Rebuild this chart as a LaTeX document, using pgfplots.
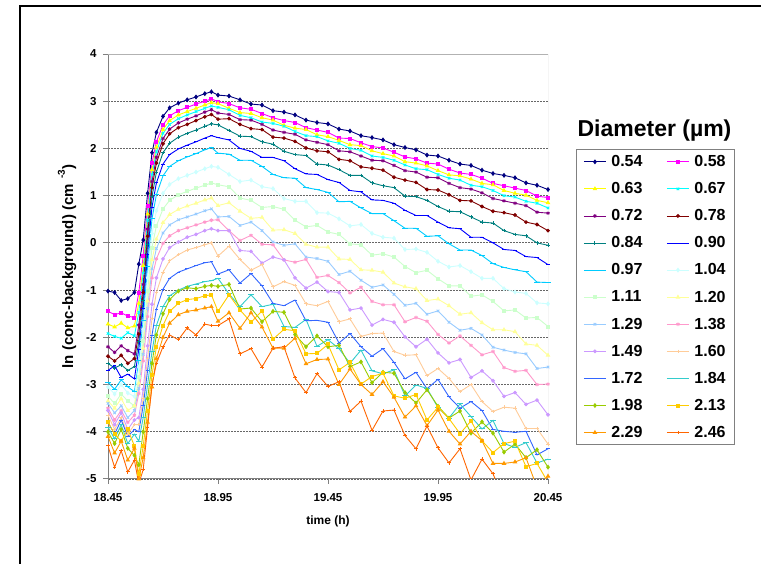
\documentclass[border=0pt]{standalone}
\usepackage{pgfplots}
\usepackage{pgfplotstable}
\pgfplotsset{compat=1.18}
\usepackage{fontspec}
\setmainfont{Liberation Sans}

\definecolor{c1}{HTML}{000080}
\definecolor{c2}{HTML}{FF00FF}
\definecolor{c3}{HTML}{FFFF00}
\definecolor{c4}{HTML}{00FFFF}
\definecolor{c5}{HTML}{800080}
\definecolor{c6}{HTML}{800000}
\definecolor{c7}{HTML}{008080}
\definecolor{c8}{HTML}{0000FF}
\definecolor{c9}{HTML}{00CCFF}
\definecolor{c10}{HTML}{CCFFFF}
\definecolor{c11}{HTML}{CCFFCC}
\definecolor{c12}{HTML}{FFFF99}
\definecolor{c13}{HTML}{99CCFF}
\definecolor{c14}{HTML}{FF99CC}
\definecolor{c15}{HTML}{CC99FF}
\definecolor{c16}{HTML}{FFCC99}
\definecolor{c17}{HTML}{3366FF}
\definecolor{c18}{HTML}{33CCCC}
\definecolor{c19}{HTML}{99CC00}
\definecolor{c20}{HTML}{FFCC00}
\definecolor{c21}{HTML}{FF9900}
\definecolor{c22}{HTML}{FF6600}

% one row per series (transposed below)
\pgfplotstableread[header=false]{
x 18.45 18.48 18.51 18.54 18.57 18.59 18.61 18.63 18.65 18.67 18.70 18.73 18.77 18.81 18.85 18.89 18.92 18.95 19.00 19.05 19.10 19.15 19.20 19.25 19.30 19.35 19.40 19.45 19.50 19.55 19.60 19.65 19.70 19.75 19.80 19.85 19.90 19.95 20.00 20.05 20.10 20.15 20.20 20.25 20.30 20.35 20.40 20.45
s1 -1.02 -1.05 -1.22 -1.18 -1.05 -0.45 0.06 1.05 1.91 2.34 2.68 2.86 2.96 3.03 3.09 3.16 3.20 3.13 3.11 3.03 2.94 2.92 2.80 2.77 2.71 2.60 2.55 2.52 2.41 2.37 2.27 2.23 2.18 2.08 2.02 1.97 1.86 1.84 1.75 1.67 1.64 1.54 1.47 1.43 1.38 1.27 1.22 1.13
s2 -1.45 -1.52 -1.48 -1.55 -1.58 -1.05 -0.27 0.78 1.69 2.14 2.50 2.69 2.80 2.87 2.94 3.00 3.05 2.99 2.95 2.86 2.83 2.74 2.65 2.59 2.55 2.44 2.39 2.34 2.22 2.21 2.12 2.04 2.01 1.92 1.82 1.78 1.69 1.67 1.56 1.48 1.45 1.37 1.26 1.21 1.16 1.11 0.99 0.96
s3 -1.72 -1.78 -1.70 -1.80 -1.76 -1.28 -0.48 0.61 1.55 2.03 2.40 2.59 2.71 2.78 2.85 2.92 2.97 2.95 2.85 2.76 2.74 2.65 2.60 2.49 2.43 2.40 2.29 2.25 2.17 2.08 2.06 1.95 1.89 1.84 1.72 1.69 1.63 1.53 1.44 1.42 1.35 1.26 1.23 1.11 1.05 1.01 0.90 0.85
s4 -1.92 -1.98 -2.02 -1.90 -1.97 -1.47 -0.64 0.48 1.45 1.93 2.32 2.51 2.63 2.71 2.78 2.85 2.90 2.87 2.82 2.70 2.65 2.56 2.53 2.47 2.36 2.27 2.25 2.16 2.11 2.00 1.96 1.84 1.81 1.75 1.65 1.57 1.55 1.45 1.37 1.33 1.22 1.19 1.11 1.00 0.97 0.88 0.84 0.74
s5 -2.20 -2.32 -2.18 -2.28 -2.35 -1.74 -0.88 0.29 1.30 1.81 2.21 2.41 2.54 2.62 2.69 2.77 2.82 2.75 2.72 2.61 2.60 2.51 2.39 2.34 2.30 2.18 2.13 2.08 1.95 1.93 1.84 1.75 1.74 1.64 1.53 1.50 1.39 1.38 1.26 1.17 1.14 1.06 0.94 0.89 0.84 0.79 0.65 0.63
s6 -2.40 -2.50 -2.38 -2.55 -2.45 -1.93 -1.05 0.14 1.17 1.69 2.10 2.31 2.44 2.51 2.59 2.67 2.72 2.62 2.63 2.51 2.42 2.40 2.24 2.22 2.15 2.01 1.95 1.93 1.77 1.74 1.61 1.58 1.54 1.39 1.33 1.28 1.13 1.12 1.02 0.90 0.89 0.77 0.67 0.64 0.59 0.44 0.39 0.26
s7 -2.55 -2.65 -2.58 -2.70 -2.62 -2.09 -1.22 -0.04 0.98 1.50 1.91 2.11 2.24 2.32 2.39 2.47 2.52 2.50 2.38 2.26 2.25 2.14 2.09 1.94 1.87 1.85 1.67 1.65 1.55 1.43 1.43 1.27 1.21 1.17 0.99 0.98 0.90 0.77 0.67 0.66 0.55 0.44 0.42 0.26 0.18 0.15 0.00 -0.05
s8 -2.70 -2.60 -2.85 -2.78 -2.88 -2.25 -1.39 -0.24 0.76 1.27 1.67 1.87 1.99 2.07 2.14 2.22 2.27 2.23 2.18 2.00 1.94 1.81 1.81 1.74 1.57 1.46 1.45 1.34 1.28 1.11 1.08 0.91 0.90 0.84 0.69 0.58 0.58 0.44 0.32 0.30 0.12 0.12 0.00 -0.14 -0.16 -0.29 -0.31 -0.46
s9 -2.95 -3.10 -2.90 -3.05 -3.15 -2.50 -1.64 -0.49 0.51 1.02 1.42 1.62 1.74 1.82 1.89 1.97 2.02 1.90 1.88 1.75 1.75 1.62 1.45 1.38 1.37 1.17 1.13 1.07 0.87 0.88 0.74 0.62 0.62 0.47 0.31 0.31 0.14 0.15 -0.02 -0.15 -0.15 -0.27 -0.44 -0.52 -0.57 -0.61 -0.83 -0.84
s10 -3.05 -3.20 -3.00 -3.18 -3.25 -2.63 -1.83 -0.74 0.20 0.68 1.05 1.24 1.36 1.43 1.50 1.57 1.62 1.60 1.45 1.30 1.33 1.19 1.15 0.94 0.88 0.88 0.64 0.63 0.51 0.36 0.39 0.20 0.12 0.10 -0.14 -0.13 -0.20 -0.39 -0.51 -0.48 -0.61 -0.75 -0.75 -0.97 -1.04 -1.07 -1.27 -1.29
s11 -3.25 -3.40 -3.20 -3.35 -3.45 -2.84 -2.07 -1.02 -0.10 0.36 0.72 0.90 1.02 1.09 1.16 1.22 1.27 1.23 1.19 0.95 0.90 0.75 0.77 0.71 0.48 0.34 0.37 0.23 0.18 -0.02 -0.04 -0.26 -0.23 -0.30 -0.50 -0.63 -0.58 -0.76 -0.91 -0.91 -1.13 -1.10 -1.24 -1.44 -1.42 -1.59 -1.58 -1.77
s12 -3.35 -3.50 -3.30 -3.55 -3.45 -2.97 -2.23 -1.23 -0.36 0.08 0.43 0.60 0.71 0.78 0.84 0.91 0.95 0.79 0.85 0.67 0.52 0.54 0.27 0.28 0.20 -0.03 -0.09 -0.09 -0.34 -0.35 -0.57 -0.58 -0.62 -0.85 -0.93 -0.97 -1.22 -1.19 -1.33 -1.51 -1.48 -1.69 -1.84 -1.84 -1.88 -2.14 -2.17 -2.38
s13 -3.40 -3.60 -3.45 -3.70 -3.55 -3.08 -2.36 -1.39 -0.55 -0.12 0.21 0.38 0.49 0.55 0.61 0.68 0.72 0.55 0.56 0.37 0.44 0.26 0.02 -0.05 -0.02 -0.30 -0.33 -0.39 -0.67 -0.60 -0.79 -0.94 -0.89 -1.09 -1.32 -1.28 -1.51 -1.44 -1.68 -1.85 -1.81 -1.95 -2.21 -2.27 -2.32 -2.35 -2.66 -2.63
s14 -3.50 -3.75 -3.55 -3.80 -3.65 -3.19 -2.50 -1.56 -0.74 -0.34 -0.01 0.15 0.26 0.32 0.38 0.44 0.48 0.49 0.26 0.05 0.16 -0.03 -0.04 -0.36 -0.41 -0.35 -0.73 -0.69 -0.84 -1.06 -0.94 -1.24 -1.31 -1.31 -1.67 -1.58 -1.66 -1.94 -2.12 -1.97 -2.17 -2.37 -2.30 -2.64 -2.72 -2.70 -3.00 -2.99
s15 -3.55 -3.85 -3.60 -3.95 -3.75 -3.70 -3.10 -2.18 -1.30 -0.74 -0.34 -0.10 0.02 0.12 0.18 0.26 0.30 0.26 0.26 -0.16 -0.18 -0.43 -0.30 -0.36 -0.74 -0.96 -0.83 -1.03 -1.05 -1.42 -1.38 -1.74 -1.62 -1.68 -1.99 -2.20 -2.04 -2.33 -2.54 -2.47 -2.85 -2.71 -2.92 -3.25 -3.17 -3.42 -3.33 -3.64
s16 -3.65 -3.95 -3.70 -4.05 -3.85 -3.85 -3.30 -2.45 -1.60 -1.05 -0.62 -0.38 -0.25 -0.15 -0.10 -0.04 0.00 -0.28 -0.07 -0.35 -0.58 -0.46 -0.93 -0.82 -0.90 -1.29 -1.33 -1.24 -1.67 -1.61 -1.98 -1.92 -1.91 -2.30 -2.38 -2.37 -2.81 -2.66 -2.87 -3.15 -3.00 -3.36 -3.57 -3.48 -3.50 -3.93 -3.93 -4.26
s17 -3.80 -4.05 -3.75 -4.10 -3.95 -4.00 -3.45 -2.70 -1.95 -1.40 -0.98 -0.75 -0.62 -0.55 -0.48 -0.42 -0.40 -0.66 -0.57 -0.85 -0.65 -0.91 -1.28 -1.33 -1.21 -1.65 -1.64 -1.68 -2.12 -1.92 -2.20 -2.40 -2.24 -2.53 -2.88 -2.74 -3.09 -2.89 -3.26 -3.50 -3.36 -3.55 -3.95 -3.99 -4.01 -3.99 -4.49 -4.36
s18 -3.90 -4.15 -3.85 -4.25 -4.05 -4.20 -3.70 -3.00 -2.30 -1.75 -1.35 -1.12 -1.00 -0.92 -0.87 -0.82 -0.80 -0.75 -1.08 -1.35 -1.10 -1.35 -1.30 -1.77 -1.79 -1.62 -2.19 -2.05 -2.24 -2.55 -2.27 -2.71 -2.77 -2.69 -3.24 -3.01 -3.08 -3.49 -3.71 -3.41 -3.68 -3.94 -3.76 -4.25 -4.33 -4.23 -4.66 -4.58
s19 -4.00 -4.25 -3.95 -4.35 -4.50 -4.70 -4.00 -3.30 -2.55 -1.95 -1.50 -1.20 -1.02 -0.95 -0.97 -0.92 -0.90 -0.92 -0.88 -1.40 -1.38 -1.67 -1.45 -1.47 -1.94 -2.20 -1.97 -2.20 -2.17 -2.62 -2.52 -2.96 -2.74 -2.76 -3.17 -3.39 -3.11 -3.46 -3.71 -3.56 -4.03 -3.79 -4.03 -4.43 -4.26 -4.55 -4.38 -4.75
s20 -3.80 -4.05 -4.20 -3.95 -4.30 -4.90 -4.30 -3.55 -2.80 -2.20 -1.75 -1.45 -1.28 -1.20 -1.18 -1.12 -1.10 -1.45 -1.10 -1.42 -1.68 -1.44 -2.04 -1.83 -1.86 -2.35 -2.34 -2.15 -2.69 -2.53 -2.99 -2.83 -2.76 -3.24 -3.29 -3.21 -3.75 -3.48 -3.72 -4.04 -3.77 -4.19 -4.44 -4.25 -4.20 -4.74 -4.67 -5.07
s21 -4.10 -4.45 -4.20 -4.60 -4.35 -5.00 -4.55 -3.80 -3.05 -2.45 -2.00 -1.70 -1.52 -1.45 -1.42 -1.38 -1.35 -1.66 -1.48 -1.81 -1.48 -1.78 -2.23 -2.23 -2.02 -2.56 -2.47 -2.46 -3.00 -2.67 -3.00 -3.21 -2.94 -3.27 -3.69 -3.45 -3.87 -3.54 -3.99 -4.26 -3.99 -4.19 -4.67 -4.67 -4.64 -4.55 -5.18 -4.94
s22 -4.30 -4.75 -4.40 -4.85 -4.60 -5.10 -4.80 -3.90 -3.00 -2.55 -2.20 -1.95 -2.05 -1.80 -1.95 -1.72 -1.75 -1.75 -1.61 -2.35 -2.24 -2.63 -2.23 -2.20 -2.86 -3.17 -2.77 -3.04 -2.94 -3.57 -3.35 -3.97 -3.56 -3.54 -4.08 -4.36 -3.88 -4.34 -4.66 -4.36 -5.02 -4.58 -4.89 -5.44 -5.11 -5.50 -5.17 -5.68
}\rawtable
\pgfplotstabletranspose[colnames from=0]\datatable\rawtable

\begin{document}
\begin{tikzpicture}
\useasboundingbox (0,0) rectangle (761pt,563pt);
\fill[white] (0,0) rectangle (761pt,563pt);
\draw[line width=2.6pt] (20pt,-3pt) -- (20pt,557pt) -- (766pt,557pt);
\begin{axis}[
  at={(108pt,84pt)}, anchor=south west,
  scale only axis, width=440pt, height=425pt,
  xmin=18.45, xmax=20.45, ymin=-5, ymax=4,
  xtick={18.45,18.95,19.45,19.95,20.45},
  xticklabels={18.45,18.95,19.45,19.95,20.45},
  ytick={-5,-4,-3,-2,-1,0,1,2,3,4},
  yticklabels={-5,-4,-3,-2,-1,0,1,2,3,4},
  axis x line*=bottom, axis y line*=left,
  axis line style={black!50, line width=1pt, -},
  tick align=outside, major tick length=5pt,
  tick style={black!50, line width=1pt},
  ymajorgrids,
  grid style={black!60, dash pattern=on 1.5pt off 1.5pt, line width=0.8pt},
  tick label style={font=\bfseries\fontsize{11.5}{13}\selectfont},
  xticklabel style={yshift=-6pt},
  yticklabel style={xshift=-3pt},
  xlabel={time (h)},
  xlabel style={font=\bfseries\fontsize{12}{14}\selectfont, at={(axis description cs:0.5,-0.099)}, anchor=center},
  ylabel={ln (conc-background) (cm\,\raisebox{0.55em}{\fontsize{10}{10}\selectfont\ -3})},
  ylabel style={font=\bfseries\fontsize{15}{17}\selectfont, at={(axis description cs:-0.093,0.5)}, anchor=center},
  legend columns=2,
  legend cell align=left,
  legend style={at={(1.0636,0.7765)}, anchor=north west, draw=black!50, line width=1pt,
    font=\bfseries\fontsize{16}{18}\selectfont, inner xsep=7pt, inner ysep=4pt, row sep=10.4pt,
    /tikz/every odd column/.append style={column sep=3pt},
    /tikz/every even column/.append style={column sep=22pt}},
  legend image code/.code={\draw[mark repeat=2,mark phase=2] plot coordinates {(0pt,0pt) (11pt,0pt) (22pt,0pt)};},
  every axis plot/.append style={line width=0.9pt, mark size=1.8pt, mark options={solid}},
]
\addplot[c1, mark=diamond*] table[x=x, y=s1] {\datatable};
\addplot[c2, mark=square*, mark size=1.5pt] table[x=x, y=s2] {\datatable};
\addplot[c3, mark=triangle*] table[x=x, y=s3] {\datatable};
\addplot[c4, mark=x] table[x=x, y=s4] {\datatable};
\addplot[c5, mark=asterisk] table[x=x, y=s5] {\datatable};
\addplot[c6, mark=*, mark size=1.4pt] table[x=x, y=s6] {\datatable};
\addplot[c7, mark=+] table[x=x, y=s7] {\datatable};
\addplot[c8, mark=-] table[x=x, y=s8] {\datatable};
\addplot[c9, mark=-, mark size=2.6pt] table[x=x, y=s9] {\datatable};
\addplot[c10, mark=diamond*] table[x=x, y=s10] {\datatable};
\addplot[c11, mark=square*, mark size=1.5pt] table[x=x, y=s11] {\datatable};
\addplot[c12, mark=triangle*] table[x=x, y=s12] {\datatable};
\addplot[c13, mark=x] table[x=x, y=s13] {\datatable};
\addplot[c14, mark=asterisk] table[x=x, y=s14] {\datatable};
\addplot[c15, mark=*, mark size=1.4pt] table[x=x, y=s15] {\datatable};
\addplot[c16, mark=+] table[x=x, y=s16] {\datatable};
\addplot[c17, mark=-] table[x=x, y=s17] {\datatable};
\addplot[c18, mark=-, mark size=2.6pt] table[x=x, y=s18] {\datatable};
\addplot[c19, mark=diamond*] table[x=x, y=s19] {\datatable};
\addplot[c20, mark=square*, mark size=1.5pt] table[x=x, y=s20] {\datatable};
\addplot[c21, mark=triangle*] table[x=x, y=s21] {\datatable};
\addplot[c22, mark=+] table[x=x, y=s22] {\datatable};
\legend{0.54,0.58,0.63,0.67,0.72,0.78,0.84,0.90,0.97,1.04,1.11,1.20,1.29,1.38,1.49,1.60,1.72,1.84,1.98,2.13,2.29,2.46}
\draw[black!30, line width=1pt] (rel axis cs:0,1) -- (rel axis cs:1,1) -- (rel axis cs:1,0);
\end{axis}
\node[font=\bfseries\fontsize{23}{26}\selectfont] at (654.5pt,432pt) {Diameter (µm)};
\end{tikzpicture}
\end{document}
